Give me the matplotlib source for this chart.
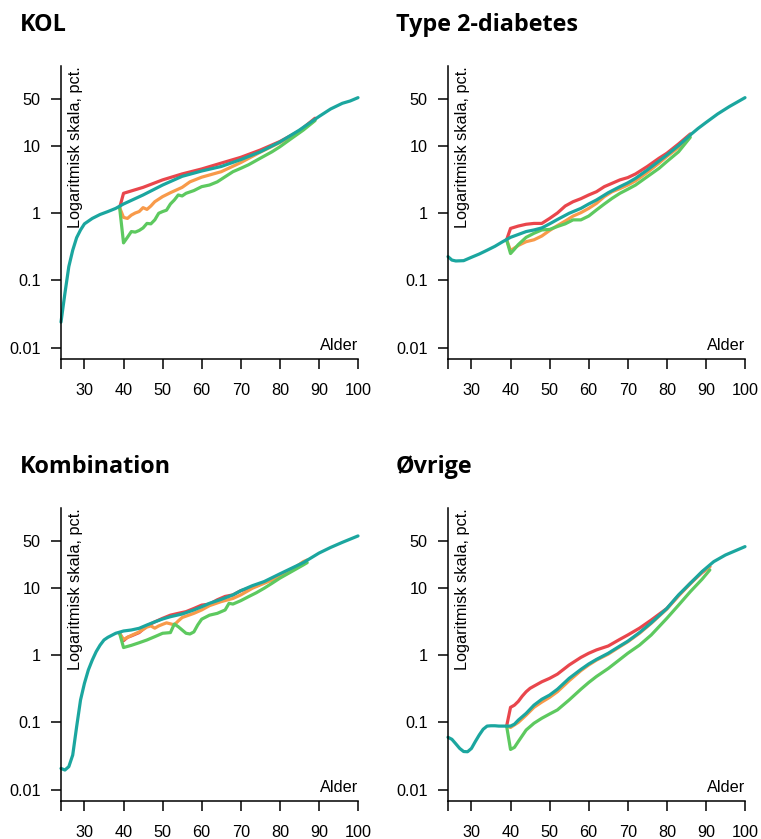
import matplotlib.pyplot as plt
import numpy as np

RED = "#E9464C"
ORANGE = "#F89A4A"
GREEN = "#5DC95F"
TEAL = "#1BA69F"

# ---- KOL ----
kol_teal_age = [24, 25, 26, 27, 28, 29, 30, 32, 34, 36, 38, 40, 45, 50, 55, 60, 65, 70, 75, 80, 85, 90, 93, 96, 98, 100]
kol_teal = [0.024, 0.064, 0.16, 0.28, 0.43, 0.56, 0.69, 0.83, 0.95, 1.05, 1.17, 1.36, 1.85, 2.6, 3.5, 4.2, 4.9, 6.2, 8.1, 11.3, 17, 27, 35, 42.5, 46, 51.5]
kol_red_age = [39, 40, 45, 50, 55, 60, 65, 70, 75, 80, 85, 89]
kol_red = [1.2, 1.96, 2.4, 3.1, 3.8, 4.5, 5.5, 6.7, 8.6, 11.5, 16.5, 25.5]
kol_orange_age = [39, 40, 41, 42, 43, 44, 45, 46, 47, 48, 50, 52, 55, 57, 60, 65, 70, 75, 80, 85, 89]
kol_orange = [1.2, 0.86, 0.83, 0.93, 1.0, 1.05, 1.2, 1.13, 1.27, 1.47, 1.75, 2.0, 2.4, 2.9, 3.4, 4.1, 5.6, 8.0, 11.1, 16, 24]
kol_green_age = [39, 40, 41, 42, 43, 44, 45, 46, 47, 48, 49, 50, 51, 52, 53, 54, 55, 56, 58, 60, 62, 64, 66, 68, 70, 72, 75, 78, 80, 83, 86, 89]
kol_green = [1.2, 0.36, 0.435, 0.53, 0.52, 0.55, 0.6, 0.7, 0.69, 0.79, 0.99, 1.05, 1.1, 1.36, 1.56, 1.85, 1.79, 1.96, 2.15, 2.46, 2.6, 2.9, 3.45, 4.1, 4.6, 5.2, 6.5, 8.1, 9.6, 12.8, 17, 23.5]

# ---- Type 2-diabetes ----
t2_teal_age = [24, 25, 26, 28, 30, 32, 34, 36, 38, 40, 42, 44, 46, 48, 50, 52, 55, 58, 60, 62, 65, 68, 70, 72, 75, 78, 80, 83, 86, 88, 90, 93, 96, 100]
t2_teal = [0.225, 0.2, 0.194, 0.196, 0.22, 0.246, 0.28, 0.32, 0.375, 0.435, 0.48, 0.53, 0.56, 0.6, 0.69, 0.8, 0.99, 1.17, 1.36, 1.56, 2.0, 2.46, 2.8, 3.27, 4.35, 5.9, 7.25, 10, 14.4, 18, 22, 29.5, 38, 51.5]
t2_red_age = [39, 40, 42, 44, 46, 48, 50, 52, 54, 56, 58, 60, 62, 64, 66, 68, 70, 72, 75, 78, 80, 83, 86]
t2_red = [0.4, 0.59, 0.64, 0.68, 0.7, 0.7, 0.83, 1.0, 1.27, 1.47, 1.63, 1.85, 2.07, 2.46, 2.76, 3.1, 3.35, 3.8, 4.9, 6.5, 7.7, 10.6, 14.9]
t2_orange_age = [39, 40, 42, 44, 46, 48, 50, 52, 54, 56, 58, 60, 62, 64, 66, 68, 70, 72, 75, 78, 80, 83, 86]
t2_orange = [0.4, 0.276, 0.33, 0.375, 0.4, 0.455, 0.55, 0.65, 0.76, 0.9, 1.01, 1.17, 1.39, 1.75, 2.07, 2.3, 2.6, 3.0, 4.0, 5.5, 6.9, 9.4, 14.4]
t2_green_age = [39, 40, 41, 42, 44, 46, 48, 50, 52, 54, 56, 58, 60, 62, 64, 66, 68, 70, 72, 75, 78, 80, 83, 86]
t2_green = [0.4, 0.25, 0.29, 0.34, 0.435, 0.5, 0.56, 0.57, 0.63, 0.69, 0.79, 0.79, 0.9, 1.11, 1.36, 1.65, 1.96, 2.25, 2.6, 3.46, 4.6, 5.8, 8.1, 13.3]

# ---- Kombination ----
komb_teal_age = [24, 25, 26, 27, 28, 29, 30, 31, 32, 33, 34, 35, 36, 38, 40, 42, 44, 46, 48, 50, 52, 55, 58, 60, 62, 65, 68, 70, 73, 76, 80, 83, 86, 90, 93, 96, 100]
komb_teal = [0.0207, 0.0196, 0.022, 0.0327, 0.086, 0.215, 0.38, 0.6, 0.84, 1.12, 1.4, 1.67, 1.83, 2.1, 2.27, 2.35, 2.49, 2.79, 3.1, 3.42, 3.7, 4.06, 4.66, 5.2, 5.85, 6.7, 7.8, 9.0, 10.7, 12.3, 16, 19.4, 23.5, 32.5, 39.5, 47, 58.5]
komb_red_age = [39, 40, 41, 42, 44, 46, 47, 48, 50, 52, 54, 56, 58, 60, 62, 64, 66, 68, 70, 72, 74, 76, 78, 80, 83, 86]
komb_red = [2.1, 1.63, 1.83, 1.92, 2.15, 2.7, 2.9, 3.1, 3.5, 3.9, 4.15, 4.4, 4.9, 5.5, 5.7, 6.6, 7.4, 7.8, 9.0, 9.8, 10.6, 11.9, 13.3, 15.4, 18.7, 23]
komb_orange_age = [39, 40, 42, 44, 46, 47, 48, 49, 50, 51, 52, 53, 54, 55, 58, 60, 62, 65, 68, 70, 73, 76, 80, 83, 86, 87]
komb_orange = [2.1, 1.7, 1.95, 2.2, 2.6, 2.7, 2.5, 2.7, 2.85, 3.0, 2.9, 2.8, 3.2, 3.6, 4.15, 4.66, 5.4, 6.2, 6.9, 7.8, 9.8, 11.6, 14.5, 18.3, 24.3, 25.7]
komb_green_age = [39, 40, 42, 44, 46, 48, 50, 52, 53, 54, 55, 56, 57, 58, 59, 60, 62, 64, 66, 67, 68, 70, 72, 74, 76, 78, 80, 83, 86, 87]
komb_green = [2.1, 1.29, 1.39, 1.52, 1.67, 1.87, 2.1, 2.15, 2.88, 2.63, 2.35, 2.1, 2.05, 2.2, 2.8, 3.4, 3.9, 4.15, 4.66, 5.85, 5.7, 6.4, 7.35, 8.4, 9.8, 11.6, 13.8, 17.3, 21.7, 23.5]

# ---- Øvrige ----
ovr_teal_age = [24, 25, 26, 27, 28, 29, 30, 31, 32, 33, 34, 35, 36, 37, 38, 39, 40, 41, 42, 44, 46, 48, 50, 52, 55, 58, 60, 62, 65, 68, 70, 73, 76, 80, 83, 86, 89, 92, 95, 100]
ovr_teal = [0.06, 0.056, 0.048, 0.041, 0.0369, 0.0366, 0.041, 0.052, 0.065, 0.079, 0.088, 0.089, 0.089, 0.088, 0.088, 0.088, 0.088, 0.094, 0.108, 0.136, 0.18, 0.22, 0.254, 0.31, 0.45, 0.61, 0.735, 0.86, 1.06, 1.36, 1.6, 2.15, 3.0, 4.9, 7.8, 11.6, 17.3, 24.3, 30.5, 40.6]
ovr_red_age = [39, 40, 41, 42, 43, 44, 45, 46, 48, 50, 52, 55, 58, 60, 62, 65, 68, 70, 73, 76, 80, 83, 86, 89, 91]
ovr_red = [0.088, 0.167, 0.18, 0.205, 0.245, 0.285, 0.32, 0.345, 0.4, 0.45, 0.52, 0.71, 0.92, 1.06, 1.19, 1.36, 1.71, 1.98, 2.5, 3.3, 4.9, 7.6, 11.6, 16.7, 20.5]
ovr_orange_age = [39, 40, 42, 44, 46, 48, 50, 52, 55, 58, 60, 62, 65, 68, 70, 73, 76, 80, 83, 86, 89, 91]
ovr_orange = [0.088, 0.084, 0.1, 0.128, 0.167, 0.2, 0.235, 0.285, 0.415, 0.585, 0.71, 0.84, 1.03, 1.33, 1.57, 2.1, 2.95, 4.8, 7.6, 11.4, 17, 20.5]
ovr_green_age = [39, 40, 41, 42, 44, 46, 48, 50, 52, 55, 58, 60, 62, 65, 68, 70, 73, 76, 80, 83, 86, 89, 91]
ovr_green = [0.088, 0.0396, 0.0425, 0.052, 0.077, 0.097, 0.115, 0.133, 0.153, 0.215, 0.31, 0.39, 0.48, 0.63, 0.86, 1.06, 1.4, 1.98, 3.5, 5.5, 8.7, 13.3, 18.3]

titles = ["KOL", "Type 2-diabetes", "Kombination", "Øvrige"]
yticks = [0.01, 0.1, 1, 10, 50]
ytick_labels = ["0.01", "0.1", "1", "10", "50"]
xticks = [24, 30, 40, 50, 60, 70, 80, 90, 100]
xtick_labels = ["", "30", "40", "50", "60", "70", "80", "90", "100"]

panels = [
    (kol_teal_age, kol_teal, kol_red_age, kol_red, kol_orange_age, kol_orange, kol_green_age, kol_green),
    (t2_teal_age, t2_teal, t2_red_age, t2_red, t2_orange_age, t2_orange, t2_green_age, t2_green),
    (komb_teal_age, komb_teal, komb_red_age, komb_red, komb_orange_age, komb_orange, komb_green_age, komb_green),
    (ovr_teal_age, ovr_teal, ovr_red_age, ovr_red, ovr_orange_age, ovr_orange, ovr_green_age, ovr_green),
]

plt.rcParams["font.family"] = ["Liberation Sans", "DejaVu Sans"]

W, H = 761, 839
fig = plt.figure(figsize=(W / 100, H / 100), dpi=100)

# axes boxes in pixels: left, top, right, bottom
boxes = [(61, 66, 358, 359), (448, 66, 745, 359), (61, 508, 358, 801), (448, 508, 745, 801)]
title_pos = [(20, 31), (396, 31), (20, 473), (396, 473)]
FS = 11.7

for i, (box, data) in enumerate(zip(boxes, panels)):
    l, t, r, b = box
    ax = fig.add_axes([l / W, 1 - b / H, (r - l) / W, (b - t) / H])
    ta, tv, ra, rv, oa, ov, ga, gv = data
    ax.plot(ra, rv, color=RED, lw=2.3, clip_on=False, solid_capstyle="round")
    ax.plot(oa, ov, color=ORANGE, lw=2.3, clip_on=False, solid_capstyle="round")
    ax.plot(ga, gv, color=GREEN, lw=2.3, clip_on=False, solid_capstyle="round")
    ax.plot(ta, tv, color=TEAL, lw=2.3, clip_on=False, solid_capstyle="round")
    ax.set_yscale("log")
    ax.set_xlim(24, 100)
    ax.set_ylim(0.0068, 152)
    ax.set_yticks(yticks)
    ax.set_yticklabels(ytick_labels)
    ax.yaxis.set_minor_locator(plt.NullLocator())
    ax.set_xticks(xticks)
    ax.set_xticklabels(xtick_labels)
    ax.spines[["top", "right"]].set_visible(False)
    for s in ["left", "bottom"]:
        ax.spines[s].set_linewidth(1.1)
    ax.tick_params(axis="y", length=7.5, width=1.1, pad=7, labelsize=FS)
    ax.tick_params(axis="x", length=7.5, width=1.1, pad=10, labelsize=FS)
    ax.text(0.05, 1.0, "Logaritmisk skala, pct.", rotation=90, ha="center", va="top",
            transform=ax.transAxes, fontsize=FS)
    ax.text(1.0, 0.02, "Alder", ha="right", va="bottom", transform=ax.transAxes, fontsize=FS)
    tx, ty = title_pos[i]
    fig.text(tx / W, 1 - ty / H, titles[i], fontsize=16.8, fontweight="bold",
             family=["Open Sans", "DejaVu Sans"], ha="left", va="baseline")

fig.savefig("out.png", dpi=100)
